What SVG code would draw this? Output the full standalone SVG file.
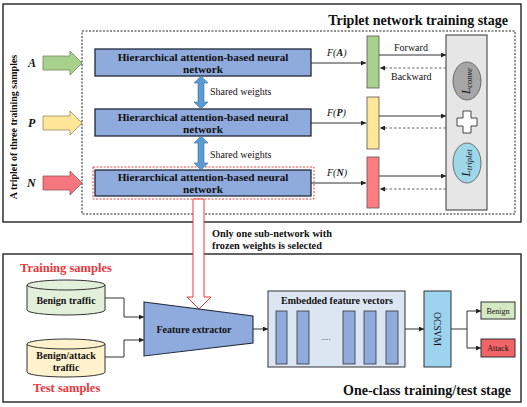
<svg xmlns="http://www.w3.org/2000/svg" width="527" height="407" viewBox="0 0 527 407">
<defs>
<marker id="ah" viewBox="0 0 6 6" refX="6" refY="3" markerWidth="5" markerHeight="5" orient="auto" markerUnits="userSpaceOnUse"><path d="M0,0 L6,3 L0,6 z" fill="#222"/></marker>
</defs>
<style>
text{font-family:"Liberation Serif","Times New Roman",serif;fill:#111}
.b{font-weight:bold}
.han{fill:#8faadc;stroke:#1f2a3a;stroke-width:1.3}
.ln{stroke:#333;stroke-width:1;fill:none}
.dl{stroke:#555;stroke-width:0.9;fill:none;stroke-dasharray:2.5,2}
.frame{fill:#fff;stroke:#222;stroke-width:1.4}
.ttl{font-size:14px;font-weight:bold}
.hn{font-size:11.2px;font-weight:bold;text-anchor:middle}
.sm{font-size:10px}
.red{fill:#e8383d}
</style>
<rect width="527" height="407" fill="#fff"/>
<g id="top-stage">
<rect class="frame" x="3" y="4" width="518" height="218"/>
<rect x="82" y="31" width="433" height="183" fill="none" stroke="#222" stroke-width="1" stroke-dasharray="2,1.5"/>
<text class="ttl" x="508" y="25" text-anchor="end">Triplet network training stage</text>
<text class="b" font-size="10" transform="translate(17,127) rotate(-90)" text-anchor="middle">A triplet of three training samples</text>
</g>
<g id="bottom-stage">
<rect class="frame" x="3" y="254" width="518" height="148"/>
<text class="ttl" x="511" y="395" text-anchor="end">One-class training/test stage</text>
<text class="b red" font-size="12.5" x="20" y="272">Training samples</text>
<text class="b red" font-size="12.5" x="33" y="392">Test samples</text>
</g>
<g id="inputs">
<text class="b" font-style="italic" font-size="12" x="28" y="67">A</text>
<polygon points="43,56 70,56 70,51 82,63 70,75 70,70 43,70" fill="#a9d18e" stroke="#6c8a5a" stroke-width="0.8"/>
<text class="b" font-style="italic" font-size="12" x="28" y="127">P</text>
<polygon points="43,116 70,116 70,111 82,123 70,135 70,130 43,130" fill="#ffe699" stroke="#9a8a5a" stroke-width="0.8"/>
<text class="b" font-style="italic" font-size="12" x="27" y="187">N</text>
<polygon points="43,176 70,176 70,171 82,183 70,195 70,190 43,190" fill="#f4777f" stroke="#a05050" stroke-width="0.8"/>
</g>
<g id="han1">
<rect class="han" x="95" y="49" width="216" height="27"/>
<text class="hn" x="203" y="61">Hierarchical attention-based neural</text>
<text class="hn" x="203" y="73">network</text>
</g>
<g id="han2">
<rect class="han" x="95" y="109" width="216" height="27"/>
<text class="hn" x="203" y="121">Hierarchical attention-based neural</text>
<text class="hn" x="203" y="133">network</text>
</g>
<g id="han3">
<rect x="93" y="167" width="221" height="32" fill="none" stroke="#e03030" stroke-width="0.9" stroke-dasharray="2,1.5"/>
<rect class="han" x="95" y="170" width="216" height="26"/>
<text class="hn" x="203" y="181">Hierarchical attention-based neural</text>
<text class="hn" x="203" y="193">network</text>
</g>
<g id="shared">
<polygon points="201,76 208,83 204,83 204,102 208,102 201,109 194,102 198,102 198,83 194,83" fill="#5b9bd5" stroke="#41719c" stroke-width="0.6"/>
<text class="sm" x="210" y="95">Shared weights</text>
<polygon points="201,136 208,143 204,143 204,163 208,163 201,170 194,163 198,163 198,143 194,143" fill="#5b9bd5" stroke="#41719c" stroke-width="0.6"/>
<text class="sm" x="210" y="158">Shared weights</text>
</g>
<g id="bars">
<rect x="367" y="36" width="12" height="52" fill="#a9d18e" stroke="#555" stroke-width="0.8"/>
<rect x="367" y="97" width="12" height="52" fill="#ffe699" stroke="#555" stroke-width="0.8"/>
<rect x="367" y="157" width="12" height="51" fill="#ff7c80" stroke="#555" stroke-width="0.8"/>
<text font-size="10" x="327" y="56" font-style="italic">F(<tspan font-weight="bold">A</tspan>)</text>
<text font-size="10" x="327" y="116" font-style="italic">F(<tspan font-weight="bold">P</tspan>)</text>
<text font-size="10" x="327" y="176" font-style="italic">F(<tspan font-weight="bold">N</tspan>)</text>
<text class="sm" x="394" y="51">Forward</text>
<text class="sm" x="391" y="80">Backward</text>
</g>
<g id="loss">
<rect x="446" y="35" width="41" height="175" fill="#e6e6e6" stroke="#333" stroke-width="1"/>
<ellipse cx="467" cy="81" rx="14" ry="19" fill="#a6a6a6" stroke="#555" stroke-width="0.8"/>
<text font-size="11.5" font-style="italic" transform="translate(470,81) rotate(-90)" text-anchor="middle">L<tspan font-size="8.5" dy="2">conve</tspan></text>
<polygon points="463,111 471,111 471,118 477,118 477,126 471,126 471,133 463,133 463,126 457,126 457,118 463,118" fill="#fff" stroke="#333" stroke-width="0.9"/>
<ellipse cx="467" cy="163" rx="14" ry="20" fill="#9dd7e8" stroke="#555" stroke-width="0.8"/>
<text font-size="11.5" font-style="italic" transform="translate(470,163) rotate(-90)" text-anchor="middle">L<tspan font-size="8.5" dy="2">triplet</tspan></text>
</g>
<g id="selector">
<polygon points="193,199 204,199 204,297 211,297 199,309 187,297 193,297" fill="#fff" stroke="#e8383d" stroke-width="1"/>
<text class="b" font-size="10.3" x="212" y="237">Only one sub-network with</text>
<text class="b" font-size="10.3" x="212" y="249">frozen weights is selected</text>
</g>
<g id="benign-traffic">
<path d="M27,285 L27,310 A39,5 0 0 0 105,310 L105,285" fill="#e2efd9" stroke="#333" stroke-width="1"/>
<ellipse cx="66" cy="285" rx="39" ry="5" fill="#e2efd9" stroke="#333" stroke-width="1"/>
<text class="b" font-size="10" x="66" y="304" text-anchor="middle">Benign traffic</text>
</g>
<g id="mixed-traffic">
<path d="M27,344 L27,372 A39,5 0 0 0 105,372 L105,344" fill="#fff2cc" stroke="#333" stroke-width="1"/>
<ellipse cx="66" cy="344" rx="39" ry="5" fill="#fff2cc" stroke="#333" stroke-width="1"/>
<text class="b" font-size="10" x="66" y="359" text-anchor="middle">Benign/attack</text>
<text class="b" font-size="10" x="66" y="371" text-anchor="middle">traffic</text>
</g>
<g id="feature-extractor">
<polygon points="144,302 253,316 253,343 144,356" fill="#8faadc" stroke="#1f2a3a" stroke-width="1.1"/>
<text class="b" font-size="10" x="194" y="333" text-anchor="middle">Feature extractor</text>
</g>
<g id="embedded">
<rect x="268" y="291" width="137" height="76" fill="#dce6f2" stroke="#333" stroke-width="1"/>
<text class="b" font-size="10" x="337" y="304" text-anchor="middle">Embedded feature vectors</text>
<g fill="#8faadc" stroke="#333" stroke-width="0.8">
<rect x="276" y="311" width="11" height="53"/>
<rect x="297" y="311" width="12" height="53"/>
<rect x="343" y="311" width="12" height="53"/>
<rect x="364" y="311" width="12" height="53"/>
<rect x="386" y="311" width="12" height="53"/>
</g>
<text font-size="9" x="326" y="340" text-anchor="middle">....</text>
</g>
<g id="ocsvm">
<rect x="424" y="291" width="27" height="76" fill="#9dd3ee" stroke="#333" stroke-width="1"/>
<text font-size="9.5" transform="translate(434,329) rotate(90)" text-anchor="middle">OCSVM</text>
</g>
<g id="benign">
<rect x="481" y="302" width="34" height="17" fill="#d5e8c4" stroke="#333" stroke-width="1"/>
<text font-size="8" x="498" y="313.5" text-anchor="middle">Benign</text>
</g>
<g id="attack">
<rect x="481" y="339" width="34" height="18" fill="#f06468" stroke="#333" stroke-width="1"/>
<text font-size="8" x="498" y="351" text-anchor="middle">Attack</text>
</g>
<g id="connectors">
<line class="ln" x1="311" y1="63" x2="366" y2="63" marker-end="url(#ah)"/>
<line class="ln" x1="311" y1="123" x2="366" y2="123" marker-end="url(#ah)"/>
<line class="ln" x1="311" y1="183" x2="366" y2="183" marker-end="url(#ah)"/>
<line class="ln" x1="379" y1="55" x2="446" y2="55" marker-end="url(#ah)"/>
<line class="dl" x1="446" y1="68" x2="380" y2="68" marker-end="url(#ah)"/>
<line class="ln" x1="379" y1="116" x2="446" y2="116" marker-end="url(#ah)"/>
<line class="dl" x1="446" y1="128" x2="380" y2="128" marker-end="url(#ah)"/>
<line class="ln" x1="379" y1="176" x2="446" y2="176" marker-end="url(#ah)"/>
<line class="dl" x1="446" y1="189" x2="380" y2="189" marker-end="url(#ah)"/>
<polyline class="ln" points="105,298 124,298 124,317 144,317" marker-end="url(#ah)"/>
<polyline class="ln" points="105,357 124,357 124,340 144,340" marker-end="url(#ah)"/>
<line class="ln" x1="253" y1="329" x2="268" y2="329" marker-end="url(#ah)"/>
<line class="ln" x1="405" y1="329" x2="424" y2="329" marker-end="url(#ah)"/>
<polyline class="ln" points="451,329 467,329"/>
<polyline class="ln" points="467,329 467,311 481,311" marker-end="url(#ah)"/>
<polyline class="ln" points="467,329 467,348 481,348" marker-end="url(#ah)"/>
</g>
</svg>
